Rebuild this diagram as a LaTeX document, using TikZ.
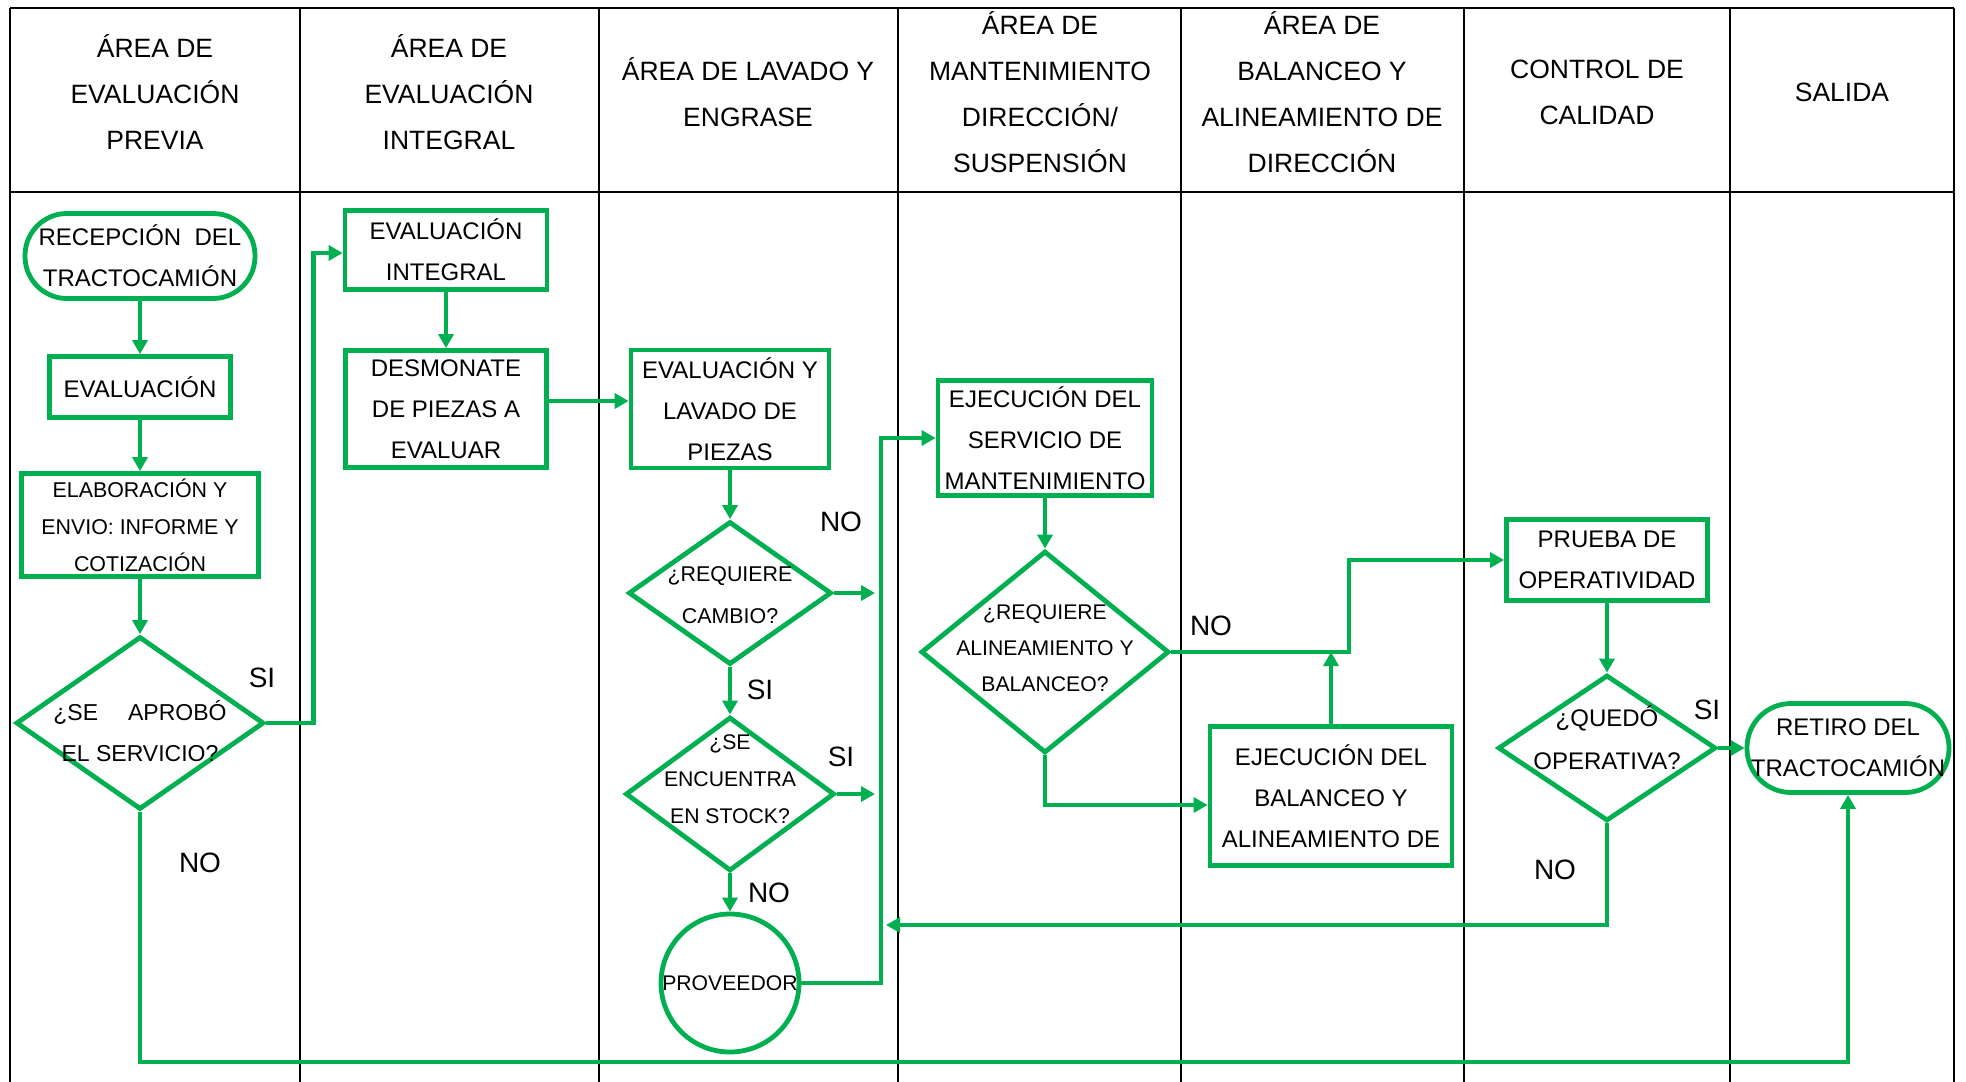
\documentclass[tikz,border=0pt]{standalone}
\usepackage{fontspec}
\setmainfont{Liberation Sans}
\usepackage{tikz}
\usetikzlibrary{arrows.meta,shapes.geometric}
\definecolor{verde}{RGB}{0,176,80}

\begin{document}
\begin{tikzpicture}[x=0.5pt,y=-0.5pt,
   linea/.style={line width=1.2pt},
   titulo/.style={align=center,inner sep=0pt,font=\fontsize{13.25}{23}\selectfont},
   caja/.style={draw=verde,line width=2.4pt,inner sep=0pt,align=center,font=\fontsize{12}{20.5}\selectfont},
   ovalo/.style={caja,rounded corners=21pt},
   chico/.style={font=\fontsize{10.7}{18.5}\selectfont},
   decision/.style={draw=verde,line width=2.4pt,diamond,inner sep=0pt},
   dtexto/.style={align=center,inner sep=0pt,font=\fontsize{10.7}{18.5}\selectfont},
   flecha/.style={draw=verde,line width=2.4pt,-{Triangle[length=7pt,width=7.5pt]}},
   rotulo/.style={inner sep=0pt,font=\fontsize{14}{16}\selectfont}]
   \useasboundingbox (0,0) rectangle (1966,1082);
   % tabla
   \draw[linea] (10,8) -- (1954,8);
   \draw[linea] (10,192) -- (1954,192);
   \draw[linea] (10,8) -- (10,1082);
   \draw[linea] (300,8) -- (300,1082);
   \draw[linea] (599,8) -- (599,1082);
   \draw[linea] (898,8) -- (898,1082);
   \draw[linea] (1181,8) -- (1181,1082);
   \draw[linea] (1464,8) -- (1464,1082);
   \draw[linea] (1730,8) -- (1730,1082);
   \draw[linea] (1954,8) -- (1954,1082);
   \node[titulo] (t1) at (155,92) {ÁREA DE\\EVALUACIÓN\\PREVIA};
   \node[titulo] (t2) at (449,92) {ÁREA DE\\EVALUACIÓN\\INTEGRAL};
   \node[titulo] (t3) at (748,92) {ÁREA DE LAVADO Y\\ENGRASE};
   \node[titulo] (t4) at (1040,92) {ÁREA DE\\MANTENIMIENTO\\DIRECCIÓN/\\SUSPENSIÓN};
   \node[titulo] (t5) at (1322,92) {ÁREA DE\\BALANCEO Y\\ALINEAMIENTO DE\\DIRECCIÓN};
   \node[titulo] (t6) at (1597,92) {CONTROL DE\\CALIDAD};
   \node[titulo] (t7) at (1842,92) {SALIDA};
   % evaluacion previa
   \node[ovalo,minimum width=115pt,minimum height=42.5pt] (recep) at (140,256) {RECEPCIÓN\ \ DEL\\TRACTOCAMIÓN};
   \node[caja,minimum width=90.5pt,minimum height=30.5pt] (evalp) at (140,387) {EVALUACIÓN};
   \node[caja,chico,minimum width=118.5pt,minimum height=51.5pt] (elab) at (140,525) {ELABORACIÓN Y\\ENVIO: INFORME Y\\COTIZACIÓN};
   \node[decision,minimum width=124pt,minimum height=86.5pt,
      label={[dtexto,name=aprobt,yshift=-4pt,font=\fontsize{11.5}{20.5}\selectfont]center:{¿SE\hspace{15pt}APROBÓ\\EL SERVICIO?}}] (aprob) at (140,723) {};
   % evaluacion integral
   \node[caja,minimum width=101pt,minimum height=39.5pt] (evali) at (446,250) {EVALUACIÓN\\INTEGRAL};
   \node[caja,minimum width=100.5pt,minimum height=58.5pt] (desmo) at (446,409) {DESMONATE\\DE PIEZAS A\\EVALUAR};
   % lavado y engrase
   \node[caja,minimum width=99pt,minimum height=59pt] (lavado) at (730,409) {EVALUACIÓN Y\\LAVADO DE\\PIEZAS};
   \node[decision,minimum width=101.5pt,minimum height=71.5pt,
      label={[dtexto,name=cambiot,yshift=-1pt,font=\fontsize{10.7}{21}\selectfont]center:{¿REQUIERE\\CAMBIO?}}] (cambio) at (730,593) {};
   \node[decision,minimum width=104.5pt,minimum height=77pt,
      label={[dtexto,name=stockt,yshift=7.5pt,font=\fontsize{10.6}{18.5}\selectfont]center:{¿SE\\ENCUENTRA\\EN STOCK?}}] (stock) at (730,794) {};
   \node[circle,draw=verde,line width=2.4pt,inner sep=0pt,minimum size=69pt,font=\fontsize{10.6}{12}\selectfont] (prov) at (730,983) {PROVEEDOR};
   % mantenimiento
   \node[caja,minimum width=107pt,minimum height=57.5pt] (ejecm) at (1045,438) {EJECUCIÓN DEL\\SERVICIO DE\\MANTENIMIENTO};
   \node[decision,minimum width=124pt,minimum height=101pt,
      label={[dtexto,name=alint,yshift=2pt,font=\fontsize{10.6}{18}\selectfont]center:{¿REQUIERE\\ALINEAMIENTO Y\\BALANCEO?}}] (alin) at (1045,652) {};
   % balanceo
   \node[caja,minimum width=121pt,minimum height=69.5pt] (ejecb) at (1331,796) {EJECUCIÓN DEL\\BALANCEO Y\\ALINEAMIENTO DE};
   % control de calidad
   \node[caja,minimum width=100.5pt,minimum height=40.5pt] (prueba) at (1607,560) {PRUEBA DE\\OPERATIVIDAD};
   \node[decision,minimum width=109pt,minimum height=73pt,
      label={[dtexto,name=quedot,yshift=5pt,font=\fontsize{12}{21.5}\selectfont]center:{¿QUEDÓ\\OPERATIVA?}}] (quedo) at (1607,748) {};
   % salida
   \node[ovalo,rounded corners=22pt,minimum width=101pt,minimum height=44.5pt] (retiro) at (1848,748) {RETIRO DEL\\TRACTOCAMIÓN};
   % puntos de paso
   \coordinate (bus) at (881,438);
   \coordinate (vuelta) at (881,925);
   \coordinate (codo) at (1349,652);
   \coordinate (fondo) at (1000,1062);
   % flechas
   \draw[flecha] (recep) -- (evalp);
   \draw[flecha] (evalp) -- (elab);
   \draw[flecha] (elab) -- (aprob);
   \draw[flecha] (aprob.east) -- ++(23.5pt,0) |- ([yshift=-1.5pt]evali.west);
   \draw[flecha] (aprob.south) |- (fondo) -| (retiro.south);
   \draw[flecha] (evali) -- (desmo);
   \draw[flecha] ([yshift=4pt]desmo.east) -- ([yshift=4pt]lavado.west);
   \draw[flecha] (lavado) -- (cambio);
   \draw[flecha] (cambio) -- (stock);
   \draw[flecha] (stock) -- (prov);
   \draw[flecha,shorten >=3pt] (cambio.east) -- (cambio.east -| bus);
   \draw[flecha,shorten >=3pt] (stock.east) -- (stock.east -| bus);
   \draw[flecha] (prov.east) -| (bus) -- (ejecm.west);
   \draw[flecha] (ejecm) -- (alin);
   \draw[flecha] (alin.east) -- (codo) |- (prueba.west);
   \draw[flecha] (alin.south) |- ([yshift=-4.5pt]ejecb.west);
   \draw[flecha] (ejecb.north) -- (ejecb.north |- codo);
   \draw[flecha] (prueba) -- (quedo);
   \draw[flecha] (quedo) -- (retiro);
   \draw[flecha,shorten >=2.5pt] (quedo.south) |- (vuelta);
   % si / no
   \node[rotulo] (si1) at (262,678) {SI};
   \node[rotulo] (no1) at (200,863) {NO};
   \node[rotulo] (no2) at (841,522) {NO};
   \node[rotulo] (si2) at (760,690) {SI};
   \node[rotulo] (si3) at (841,757) {SI};
   \node[rotulo] (no3) at (769,893) {NO};
   \node[rotulo] (no4) at (1211,626) {NO};
   \node[rotulo] (si4) at (1707,710) {SI};
   \node[rotulo] (no5) at (1555,870) {NO};
\end{tikzpicture}
\end{document}
